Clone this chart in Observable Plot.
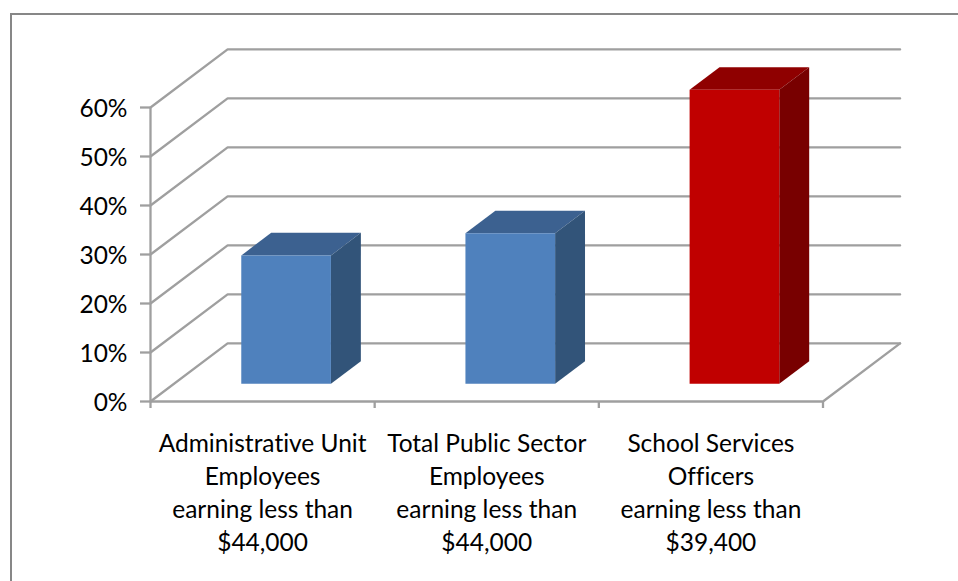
<!DOCTYPE html>
<html>
<head>
<meta charset="utf-8">
<script src="https://cdn.jsdelivr.net/npm/d3@7"></script>
<script src="https://cdn.jsdelivr.net/npm/@observablehq/plot@0.6"></script>
<style>
  html, body { margin: 0; padding: 0; background: #fff; overflow: hidden; }
  #chart { position: relative; width: 958px; height: 581px; }
  #chart svg { position: absolute; left: 0; top: 0; }
  #chart svg text { font-variant-ligatures: none; }
  #edge { position: absolute; left: 10px; top: 13px; right: 0; bottom: 0; border-left: 2px solid #878787; border-top: 2px solid #878787; }
</style>
</head>
<body>
<div id="chart"><div id="edge"></div></div>
<script>
const categories = [
  "Administrative Unit\nEmployees\nearning less than\n$44,000",
  "Total Public Sector\nEmployees\nearning less than\n$44,000",
  "School Services\nOfficers\nearning less than\n$39,400"
];
const shares = [0.262, 0.307, 0.60];
const frontColors = ["#4f81bd", "#4f81bd", "#c00000"];
const topColors = ["#3c6190", "#3c6190", "#8f0000"];
const sideColors = ["#325479", "#325479", "#780000"];
const yTicks = [0, 0.1, 0.2, 0.3, 0.4, 0.5, 0.6];
const xTicks = [0, 1, 2, 3];

// Oblique projection: one unit of depth shifts a point right and up, in data units.
const depthX = 0.344;
const depthY = 0.1186;
const at = (x, y, d) => ({x: x + d * depthX, y: y + d * depthY});

// Bars occupy the middle of each band and a slice of the floor's depth.
const barWidth = 0.4;
const depthNear = 0.305;
const depthFar = 0.693;

const wallLines = yTicks.flatMap((v) =>
  [at(0, v, 0), at(0, v, 1), at(3, v, 1)].map((p) => ({...p, level: v}))
);
const floorEdge = [at(3, 0, 0), at(3, 0, 1)];

function face(points, fill) {
  return Plot.line([...points, points[0]], {x: "x", y: "y", fill, stroke: "none"});
}

const barFaces = shares.flatMap((v, i) => {
  const a = i + 0.5 - barWidth / 2;
  const b = i + 0.5 + barWidth / 2;
  return [
    face([at(a, v, depthNear), at(b, v, depthNear), at(b, v, depthFar), at(a, v, depthFar)], topColors[i]),
    face([at(b, 0, depthNear), at(b, v, depthNear), at(b, v, depthFar), at(b, 0, depthFar)], sideColors[i]),
    face([at(a, 0, depthNear), at(b, 0, depthNear), at(b, v, depthNear), at(a, v, depthNear)], frontColors[i])
  ];
});

const gridColor = "#9f9f9f";
const gridWidth = 2.3;
const font = "Lato, Carlito, sans-serif";

const chart = Plot.plot({
  width: 958,
  height: 581,
  marginLeft: 150,
  marginRight: 135.5,
  marginTop: 107,
  marginBottom: 180,
  style: {background: "transparent", fontFamily: font},
  x: {type: "linear", domain: [0, 3]},
  y: {type: "linear", domain: [0, 0.6]},
  marks: [
    Plot.line(wallLines, {x: "x", y: "y", z: "level", stroke: gridColor, strokeWidth: gridWidth, strokeLinejoin: "miter"}),
    Plot.line(floorEdge, {x: "x", y: "y", stroke: gridColor, strokeWidth: gridWidth}),
    Plot.ruleY([0], {stroke: gridColor, strokeWidth: gridWidth}),
    Plot.ruleX([0], {stroke: gridColor, strokeWidth: gridWidth}),
    // Tick strokes and tick labels are separate so the labels can sit slightly lower.
    Plot.axisY({
      ticks: yTicks,
      label: null,
      tickFormat: () => "",
      tickSize: 10,
      stroke: gridColor,
      strokeWidth: gridWidth,
      strokeOpacity: 1
    }),
    Plot.axisY({
      ticks: yTicks,
      label: null,
      tickFormat: (d) => `${Math.round(d * 100)}%`,
      tickSize: 0,
      tickPadding: 23,
      dy: 2,
      fontSize: 24.5,
      fill: "#000"
    }),
    Plot.axisX({
      ticks: xTicks,
      label: null,
      tickFormat: () => "",
      tickSize: 7,
      stroke: gridColor,
      strokeWidth: gridWidth,
      strokeOpacity: 1
    }),
    ...barFaces,
    Plot.text(categories, {
      x: (d, i) => i + 0.5,
      y: () => 0,
      text: (d) => d,
      dy: 27,
      lineAnchor: "top",
      lineHeight: 1.347,
      fontSize: 24.5,
      fill: "#000"
    })
  ]
});
document.getElementById("chart").appendChild(chart);
</script>
</body>
</html>
